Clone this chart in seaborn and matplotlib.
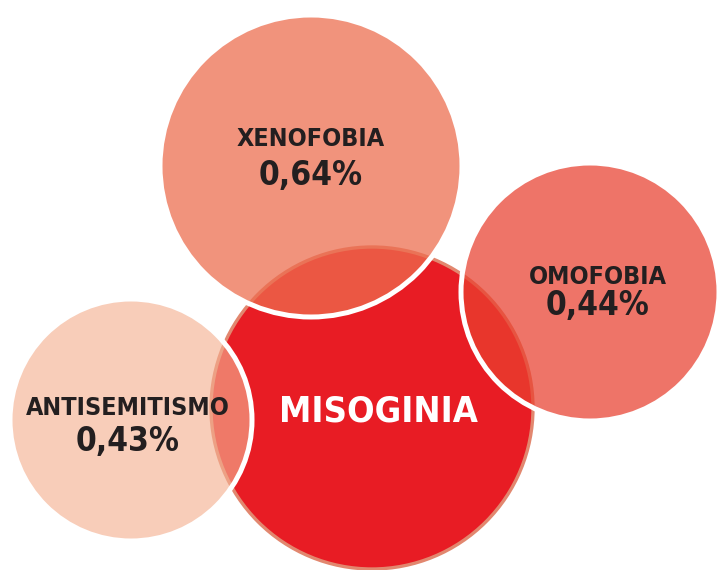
import matplotlib
matplotlib.use("Agg")
import matplotlib.pyplot as plt
from matplotlib import font_manager
from matplotlib.patches import Circle
import seaborn as sns

# bubbles (pixel layout of the original graphic)
labels = ["MISOGINIA", "ANTISEMITISMO", "XENOFOBIA", "OMOFOBIA"]
values = [None, "0,43%", "0,64%", "0,44%"]
cx = [372, 131, 311, 590]
cy = [408, 420, 166, 292]
radius = [161, 121, 151, 129]
fills = ["#E81C24", (0.957, 0.690, 0.569, 0.63), (0.929, 0.427, 0.310, 0.74), (0.914, 0.255, 0.188, 0.73)]
# text baselines
label_x = [378, 128, 311, 598]
label_base = [421, 415, 146, 284]
value_base = [None, 451, 185, 315]

sns.set_style("white")

# condensed bold face: prefer Liberation Sans Narrow, then DejaVu Sans Condensed
found = None
for key in ["LiberationSansNarrow-Bold.ttf", "DejaVuSansCondensed-Bold.ttf"]:
    for f in font_manager.fontManager.ttflist:
        if f.fname.endswith(key):
            found = f.fname
            break
    if found:
        break
if found:
    fp = font_manager.FontProperties(fname=found)
else:
    fp = font_manager.FontProperties(family="Roboto", weight="bold")

fig = plt.figure(figsize=(7.19, 5.70), dpi=100)
ax = fig.add_axes([0, 0, 1, 1])
ax.set_xlim(0, 719)
ax.set_ylim(570, 0)
ax.set_aspect("equal")
ax.axis("off")

ax.add_patch(Circle((cx[0], cy[0]), radius[0], facecolor=fills[0],
                    edgecolor="#E2876F", linewidth=2.4, zorder=1))
ax.text(label_x[0], label_base[0], labels[0], color="white", fontproperties=fp, fontsize=26,
        ha="center", va="baseline", zorder=5)

for i in range(1, 4):
    ax.add_patch(Circle((cx[i], cy[i]), radius[i], facecolor=fills[i],
                        edgecolor="white", linewidth=3.6, zorder=2 + i))
    ax.text(label_x[i], label_base[i], labels[i], color="#231F20", fontproperties=fp,
            fontsize=18, ha="center", va="baseline", zorder=6)
    ax.text(label_x[i], value_base[i], values[i], color="#231F20", fontproperties=fp,
            fontsize=24, ha="center", va="baseline", zorder=6)

fig.savefig("out.png", dpi=100, facecolor="white")
